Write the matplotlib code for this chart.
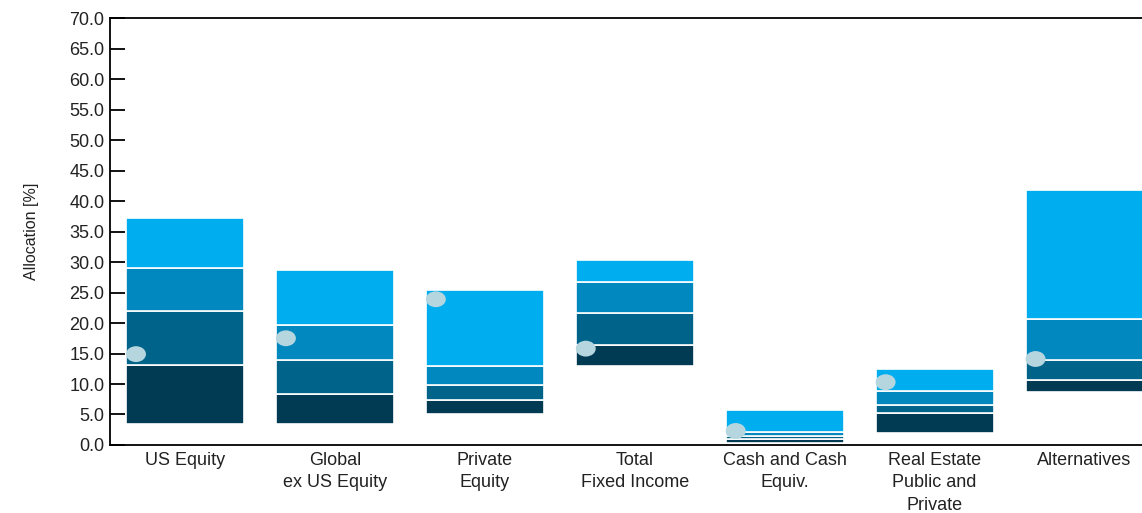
import matplotlib.pyplot as plt
from matplotlib.patches import Ellipse

plt.rcParams['font.family'] = ['Liberation Sans', 'DejaVu Sans']

categorias = ["US Equity", "Global\nex US Equity", "Private\nEquity", "Total\nFixed Income",
              "Cash and Cash\nEquiv.", "Real Estate\nPublic and\nPrivate", "Alternatives"]

# Percentiles: 5th, 25th, 50th, 75th, 95th
p05 = [3.4, 3.4, 5.0, 13.0, 0.4, 1.9, 8.7]
p25 = [13.1, 8.4, 7.4, 16.4, 0.9, 5.3, 10.7]
p50 = [22.0, 13.9, 9.9, 21.7, 1.5, 6.6, 13.9]
p75 = [29.1, 19.7, 13.0, 26.8, 2.1, 8.9, 20.7]
p95 = [37.3, 28.7, 25.4, 30.4, 5.7, 12.5, 41.8]
actual = [14.9, 17.5, 23.9, 15.8, 2.3, 10.3, 14.1]

colores = ["#003b53", "#00648a", "#0088bf", "#00adef"]

fig = plt.figure(figsize=(11.42, 5.13), dpi=100)
ax = fig.add_axes([0.0963, 0.1326, 0.919, 0.832])

x = list(range(len(categorias)))
ancho = 0.787
niveles = [p05, p25, p50, p75, p95]
for k in range(4):
    bajo = niveles[k]
    alto = niveles[k + 1]
    alturas = [a - b for a, b in zip(alto, bajo)]
    ax.bar(x, alturas, bottom=bajo, width=ancho, color=colores[k],
           edgecolor="white", linewidth=1.2, zorder=2)

# Marcadores de la asignacion actual (elipses en el borde izquierdo)
for i, v in enumerate(actual):
    ax.add_patch(Ellipse((i - ancho / 2 + 0.067, v), 0.133, 2.6,
                         facecolor="#b5d6de", edgecolor="none", zorder=3))

ax.set_xlim(-0.5, 6.5)
ax.set_ylim(0, 70)
ax.set_yticks([i * 5 for i in range(15)])
ax.set_yticklabels([f"{i * 5:.1f}" for i in range(15)], fontsize=13, color="#222222")
ax.set_xticks(x)
ax.set_xticklabels(categorias, fontsize=13, color="#222222", linespacing=1.42)
ax.tick_params(axis="y", direction="in", length=11, width=1.3, pad=4)
ax.tick_params(axis="x", length=0, pad=5)
ax.set_ylabel("Allocation [%]", fontsize=11.5, color="#222222", labelpad=22)

for lado in ["left", "bottom", "top", "right"]:
    ax.spines[lado].set_linewidth(1.3)

plt.savefig("out.png", dpi=100)
